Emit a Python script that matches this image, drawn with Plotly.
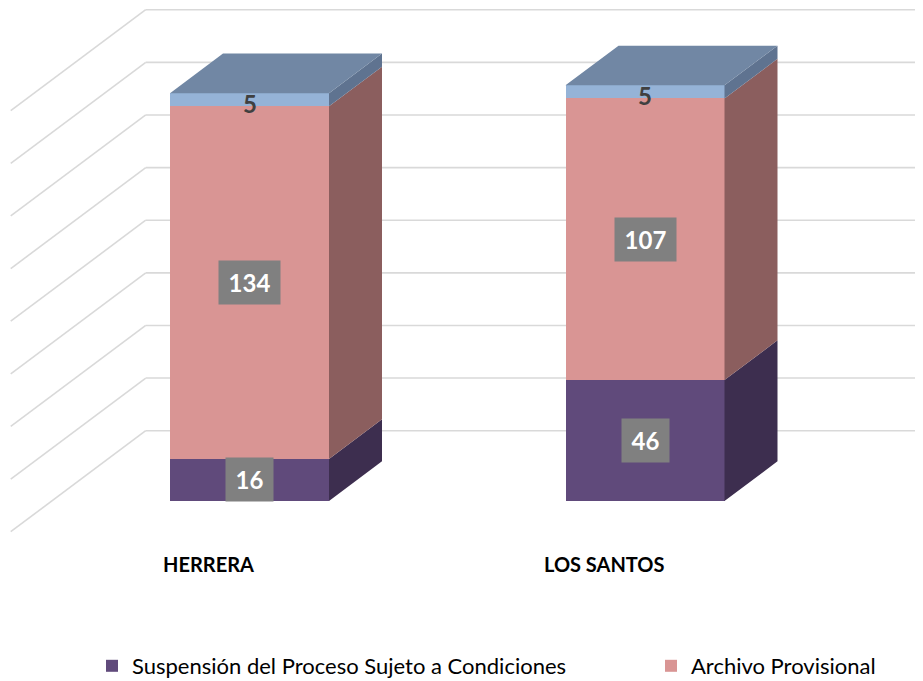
import plotly.graph_objects as go

# ---------------- data ----------------
categories = ["HERRERA", "LOS SANTOS"]
series_names = ["Suspensión del Proceso Sujeto a Condiciones", "Archivo Provisional", "Otros"]
suspension = [16, 46]
archivo = [134, 107]
otros = [5, 5]
tick_values = [0, 20, 40, 60, 80, 100, 120, 140, 160]

# ---------------- style ----------------
front_colors = ["#604A7B", "#D99594", "#95B3D7"]
side_colors = ["#3D2E4F", "#8B5E5E", "#5F7390"]
top_color = "#7187A4"
grid_color = "#D9D9D9"
OFF = 8                      # page body margin of the html page
W, H = 923 - OFF, 681 - OFF  # figure size so that it fills the window

# projection geometry (pixel scale of the 3D box, in figure pixels)
PX_X = 395.5          # pixels per category step
X0_PX = 249.5 - OFF   # pixel of first category centre
PX_V = 2.631          # pixels per value unit
V0_PX = 501 - OFF     # pixel of value 0 at the bar front plane
SLOPE = 0.748         # vertical rise per pixel of depth
BAR_W = 0.402         # bar width in category units
BAR_DEPTH = 53        # depth of bars (px)
WALL_BACK = 94        # back wall depth (px)
WALL_FRONT = -41      # floor front edge depth (px)


def proj(x, v, d):
    """Project a point (category x, value v, depth d in px) to axis coords."""
    return x + d / PX_X, v + SLOPE * d / PX_V


xpos = list(range(len(categories)))
series = [suspension, archivo, otros]
legend_ids = ["legend", "legend2", "legend"]

fig = go.Figure()

# front faces: stacked bars
for name, vals, col, show, lg in zip(series_names, series, front_colors, [True, True, False], legend_ids):
    fig.add_trace(go.Bar(x=xpos, y=vals, name=name, width=BAR_W,
                         marker=dict(color=col, line=dict(width=0)),
                         showlegend=show, legend=lg, hoverinfo="skip"))

# side faces and top face
bottoms = [0] * len(categories)
seg = []
for vals in series:
    seg.append([(b, b + v) for b, v in zip(bottoms, vals)])
    bottoms = [b + v for b, v in zip(bottoms, vals)]

for si, segs in enumerate(seg):
    xs, ys = [], []
    for i, (b, t) in enumerate(segs):
        xr = xpos[i] + BAR_W / 2
        pts = [proj(xr, b, 0), proj(xr, b, BAR_DEPTH), proj(xr, t, BAR_DEPTH), proj(xr, t, 0), proj(xr, b, 0)]
        xs += [p[0] for p in pts] + [None]
        ys += [p[1] for p in pts] + [None]
    fig.add_trace(go.Scatter(x=xs, y=ys, mode="lines", fill="toself",
                             fillcolor=side_colors[si], line=dict(width=0, color=side_colors[si]),
                             showlegend=False, hoverinfo="skip"))

xs, ys = [], []
for i, top in enumerate(bottoms):
    xl, xr = xpos[i] - BAR_W / 2, xpos[i] + BAR_W / 2
    pts = [proj(xl, top, 0), proj(xr, top, 0), proj(xr, top, BAR_DEPTH), proj(xl, top, BAR_DEPTH), proj(xl, top, 0)]
    xs += [p[0] for p in pts] + [None]
    ys += [p[1] for p in pts] + [None]
fig.add_trace(go.Scatter(x=xs, y=ys, mode="lines", fill="toself", fillcolor=top_color,
                         line=dict(width=0, color=top_color), showlegend=False, hoverinfo="skip"))

# gridlines on the left wall and back wall
x_left = xpos[0] - 0.5
x_right = xpos[-1] + 0.5
shapes = []
for t in tick_values:
    a = proj(x_left, t, WALL_FRONT)
    b = proj(x_left, t, WALL_BACK)
    c = proj(x_right, t, WALL_BACK)
    for p, q in [(a, b), (b, c)]:
        shapes.append(dict(type="line", xref="x", yref="y", x0=p[0], y0=p[1], x1=q[0], y1=q[1],
                           line=dict(color=grid_color, width=1.6), layer="below"))

# data labels
annotations = []
for si, segs in enumerate(seg):
    vals = series[si]
    for i, (b, t) in enumerate(segs):
        txt = str(vals[i])
        if si == 2:
            annotations.append(dict(x=xpos[i], y=(b + t) / 2, xref="x", yref="y", text=f"<b>{txt}</b>",
                                    showarrow=False, yshift=-4,
                                    font=dict(family="Lato", size=24, color="#404040")))
        else:
            annotations.append(dict(x=xpos[i], y=(b + t) / 2, xref="x", yref="y", text=f"<b>{txt}</b>",
                                    showarrow=False, bgcolor="#808080", borderpad=7,
                                    width=14 * len(txt) + 5,
                                    font=dict(family="Lato", size=24, color="white")))

# category labels
for i, cat in enumerate(categories):
    px, pv = proj(xpos[i], 0, WALL_FRONT)
    annotations.append(dict(x=px, y=pv, xref="x", yref="y", text=f"<b>{cat}</b>", showarrow=False,
                            yshift=-32, font=dict(family="Lato", size=20, color="black")))

legend_style = dict(orientation="h", xanchor="left", yanchor="middle", y=1 - (666 - OFF) / H,
                    font=dict(family="Lato", size=22, color="black"), itemwidth=30,
                    bgcolor="rgba(0,0,0,0)", borderwidth=0)

fig.update_layout(
    width=W, height=H, autosize=False,
    margin=dict(l=0, r=0, t=0, b=0, pad=0, autoexpand=False),
    barmode="stack",
    plot_bgcolor="white", paper_bgcolor="white",
    xaxis=dict(range=[(0 - X0_PX) / PX_X, (W - X0_PX) / PX_X], visible=False, fixedrange=True),
    yaxis=dict(range=[(V0_PX - H) / PX_V, V0_PX / PX_V], visible=False, fixedrange=True),
    shapes=shapes,
    annotations=annotations,
    showlegend=True,
    legend=dict(x=(92 - OFF) / W, **legend_style),
    legend2=dict(x=(651 - OFF) / W, **legend_style),
)

fig.write_html("out.html")
